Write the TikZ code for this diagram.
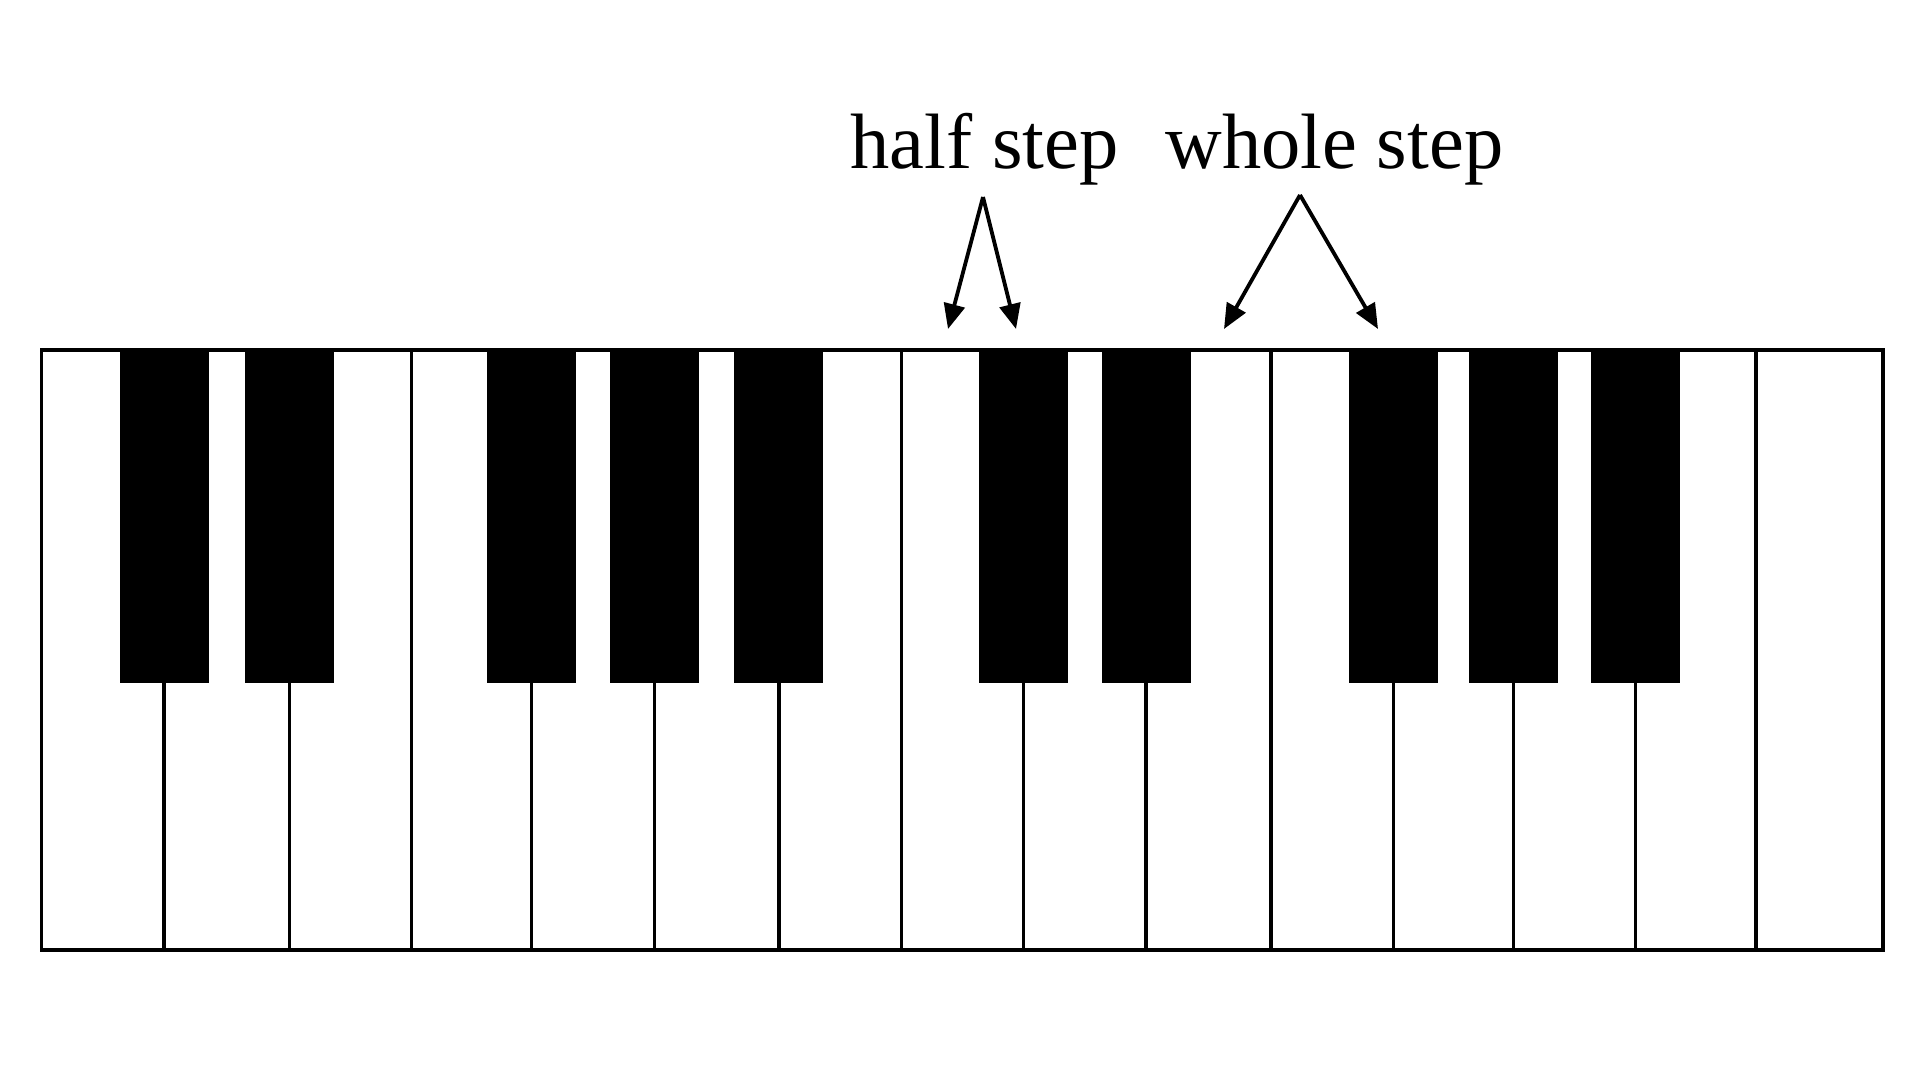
\documentclass[tikz,border=0pt]{standalone}
\usepackage{fontspec}
\setmainfont{Liberation Serif}
\usetikzlibrary{arrows.meta}
\begin{document}
\begin{tikzpicture}[x=0.5pt,y=-0.5pt,
  keyline/.style={line width=1.7pt},
  blackkey/.style={fill=black},
  pointer/.style={line width=1.9pt,-{Triangle[length=12.5pt,width=10.5pt]}},
  steplabel/.style={font=\fontsize{39.25}{47}\selectfont,inner sep=0pt,anchor=base west}]
\fill[white] (0,0) rectangle (1920,1080);
\useasboundingbox (0,0) rectangle (1920,1080);
% keyboard outline
\draw[keyline] (41.6,350) rectangle (1883,950);
% full-height dividers (E-F and B-C)
\foreach \x in {411.4,901.2,1271.0,1755.9}
  \draw[keyline] (\x,350) -- (\x,950);
% black keys and dividers below them
\foreach \x in {164.1,289.6,531.4,654.2,778.8,1023.7,1146.1,1393.5,1513.5,1635.6} {
  \fill[blackkey] ({\x-44.4},350) rectangle ({\x+44.4},683);
  \draw[keyline] (\x,683) -- (\x,950);
}
% labels
\node[steplabel] (half) at (850,169) {half step};
\node[steplabel] (whole) at (1165,169) {whole step};
% arrow points
\coordinate (ha) at (983,197);
\coordinate (h1) at (948,329);
\coordinate (h2) at (1016,329);
\coordinate (wa) at (1300,195);
\coordinate (w1) at (1224,329);
\coordinate (w2) at (1378,329);
\draw[pointer] (ha) -- (h1);
\draw[pointer] (ha) -- (h2);
\draw[pointer] (wa) -- (w1);
\draw[pointer] (wa) -- (w2);
\end{tikzpicture}
\end{document}
